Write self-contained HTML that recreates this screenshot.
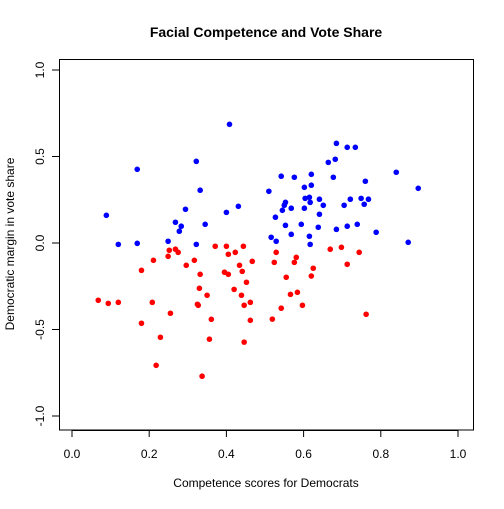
<!DOCTYPE html>
<html><head><meta charset="utf-8"><style>
body{margin:0;background:#fff}
svg text{font-family:"Liberation Sans",Arial,sans-serif;fill:#000}
</style></head><body>
<svg id="chart" width="504" height="504">
<rect width="504" height="504" fill="#fff"/>
<text x="266" y="37" font-size="14" font-weight="bold" text-anchor="middle">Facial Competence and Vote Share</text>
<text x="266" y="487" font-size="12" text-anchor="middle">Competence scores for Democrats</text>
<text transform="translate(14,244) rotate(-90)" font-size="12" text-anchor="middle">Democratic margin in vote share</text>
<rect x="59.5" y="59.5" width="414" height="370.5" fill="none" stroke="#000" stroke-width="1"/>
<g id="xaxis"></g>
<g id="yaxis"></g>
<g id="pts"></g>
</svg>
<script>
const xTicks=[0,0.2,0.4,0.6,0.8,1.0];
const xTickLabels=["0.0","0.2","0.4","0.6","0.8","1.0"];
const yTicks=[-1,-0.5,0,0.5,1];
const yTickLabels=["-1.0","-0.5","0.0","0.5","1.0"];
const blueX=[.408,.322,.169,.332,.510,.294,.431,.400,.089,.268,.283,.278,.345,.120,.169,.249,.322,.516,
.685,.713,.734,.664,.682,.542,.576,.620,.677,.840,.760,.897,.602,.620,.604,.615,.617,.641,.553,.550,.545,.568,.602,.651,.721,.749,.768,.757,.705,.527,.641,.553,.594,.638,.685,.713,.739,.788,.568,.529,.615,.617,.871];
const blueY=[.686,.472,.426,.305,.299,.195,.212,.177,.160,.120,.097,.068,.108,-.008,-.002,.010,-.008,.033,
.576,.553,.553,.466,.484,.386,.380,.397,.380,.409,.357,.316,.322,.334,.258,.264,.235,.253,.235,.218,.189,.201,.201,.218,.253,.258,.253,.224,.218,.149,.166,.102,.108,.091,.079,.097,.108,.062,.050,.010,.039,-.008,.004];
const redX=[.371,.400,.444,.252,.268,.275,.249,.211,.405,.423,.317,.296,.467,.434,.180,.332,.395,.405,.441,.452,.330,.350,.420,.439,.068,.094,.120,.208,.325,.327,.462,.446,.255,.180,.361,.462,.229,.356,.446,.218,.337,
.529,.524,.581,.576,.669,.698,.744,.713,.625,.555,.620,.566,.584,.542,.597,.519,.762];
const redY=[-.019,-.019,-.019,-.042,-.036,-.054,-.077,-.100,-.065,-.054,-.100,-.129,-.106,-.129,-.158,-.181,-.169,-.181,-.164,-.227,-.262,-.302,-.268,-.302,-.331,-.349,-.343,-.343,-.354,-.360,-.343,-.360,-.406,-.464,-.441,-.447,-.545,-.556,-.573,-.707,-.770,
-.054,-.112,-.083,-.112,-.036,-.025,-.054,-.123,-.146,-.198,-.191,-.297,-.285,-.377,-.360,-.440,-.412];
const NS="http://www.w3.org/2000/svg";
function sx(v){return 72+386*v;}
function sy(v){return 243-173*v;}
function mk(t,a,p){const e=document.createElementNS(NS,t);for(const k in a)e.setAttribute(k,a[k]);p.appendChild(e);return e;}
const xa=document.getElementById('xaxis'),ya=document.getElementById('yaxis'),pg=document.getElementById('pts');
mk('line',{x1:sx(0),x2:sx(1),y1:430.5,y2:430.5,stroke:'#000'},xa);
xTicks.forEach((v,i)=>{
 const l=mk('line',{x1:sx(v),x2:sx(v),y1:430,y2:437,stroke:'#000'},xa);
 
 
 const t=mk('text',{x:sx(v),y:458,'font-size':12,'text-anchor':'middle'},xa);t.textContent=xTickLabels[i];
 
 
});
mk('line',{x1:59.5,x2:59.5,y1:sy(-1),y2:sy(1),stroke:'#000'},ya);
yTicks.forEach((v,i)=>{
 const l=mk('line',{x1:52,x2:59.5,y1:sy(v),y2:sy(v),stroke:'#000'},ya);
 
 
 const t=mk('text',{transform:`translate(44,${sy(v)}) rotate(-90)`,'font-size':12,'text-anchor':'middle'},ya);t.textContent=yTickLabels[i];
 
 
});
blueX.forEach((v,i)=>{
 const c=mk('circle',{cx:sx(v),cy:sy(blueY[i]),r:2.8,fill:'#0000ff'},pg);
 
 
});
redX.forEach((v,i)=>{
 const c=mk('circle',{cx:sx(v),cy:sy(redY[i]),r:2.8,fill:'#ff0000'},pg);
 
 
});
</script>
</body></html>
